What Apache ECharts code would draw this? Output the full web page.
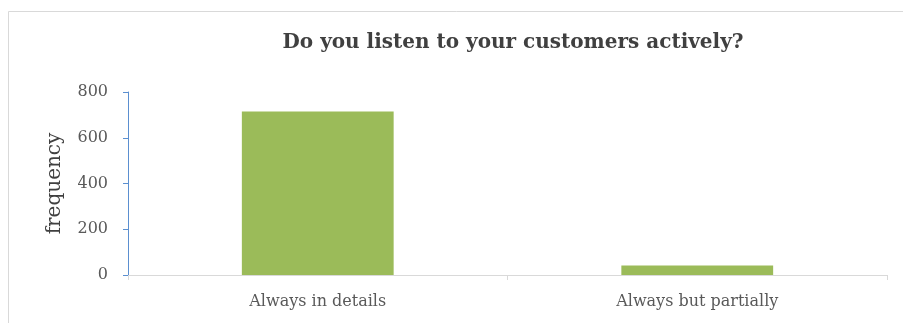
<!DOCTYPE html>
<html>
<head>
<meta charset="utf-8">
<script src="https://cdn.jsdelivr.net/npm/echarts@6/dist/echarts.min.js"></script>
<style>
  html, body { margin: 0; padding: 0; background: #ffffff; }
  #chart { width: 903px; height: 323px; }
</style>
</head>
<body>
<div id="chart"></div>
<script>
// Survey answers and their counts
const categories = ['Always in details', 'Always but partially'];
const frequency = [715, 41];
const yTicks = [0, 200, 400, 600, 800];

const serif = '"DejaVu Serif", "Liberation Serif", serif';

const chart = echarts.init(document.getElementById('chart'));
chart.setOption({
  animation: false,
  backgroundColor: '#ffffff',
  title: {
    text: 'Do you listen to your customers actively?',
    left: 508,
    textAlign: 'center',
    top: 28,
    textStyle: { fontFamily: serif, fontWeight: 'bold', fontSize: 20, color: '#404040' }
  },
  graphic: [{
    type: 'rect',
    shape: { x: 8.5, y: 11.5, width: 910, height: 330 },
    style: { fill: 'none', stroke: '#d9d9d9', lineWidth: 1 },
    silent: true
  }],
  grid: { left: 128, right: 16, top: 92, bottom: 48 },
  xAxis: {
    type: 'category',
    data: categories,
    axisLine: { lineStyle: { color: '#d9d9d9', width: 1 } },
    axisTick: { show: true, alignWithLabel: false, length: 5, lineStyle: { color: '#d9d9d9' } },
    axisLabel: { fontFamily: serif, fontSize: 16, color: '#595959', margin: 19 }
  },
  yAxis: {
    type: 'value',
    min: yTicks[0],
    max: yTicks[yTicks.length - 1],
    interval: 200,
    name: 'frequency',
    nameLocation: 'middle',
    nameGap: 63,
    nameTextStyle: { fontFamily: serif, fontSize: 20, color: '#404040' },
    axisLine: { show: true, lineStyle: { color: '#5b8fd0', width: 1 } },
    axisTick: { show: true, length: 5, lineStyle: { color: '#5b8fd0' } },
    axisLabel: { fontFamily: serif, fontSize: 16, color: '#595959', margin: 20 },
    splitLine: { show: false }
  },
  series: [{
    type: 'bar',
    data: frequency,
    barWidth: '40%',
    itemStyle: { color: '#9bbb59' }
  }]
});
</script>
</body>
</html>
